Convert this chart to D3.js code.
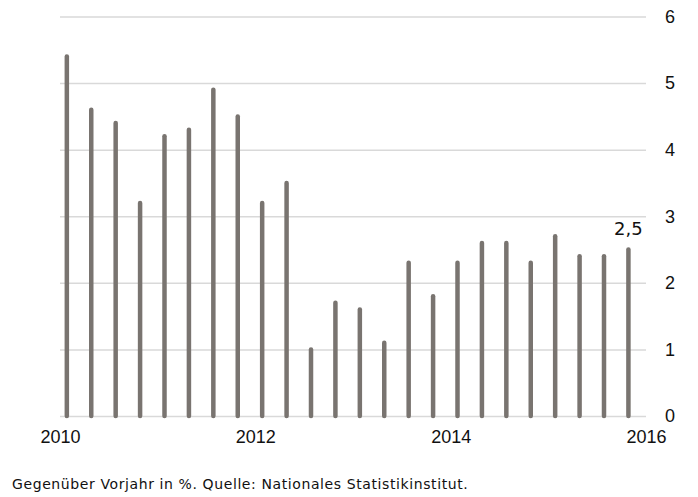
<!DOCTYPE html>
<html>
<head>
<meta charset="utf-8">
<script src="https://cdn.jsdelivr.net/npm/d3@7"></script>
<style>
  body { margin: 0; background: #fff; }
  svg { display: block; font-family: "DejaVu Sans", sans-serif; }
</style>
</head>
<body>
<div id="chart"></div>
<script>
// Quartalswerte 2010-2015, gegenüber Vorjahr in %
const years = [2010, 2011, 2012, 2013, 2014, 2015];
const quarters = [1, 2, 3, 4];
const values = [
    5.4, 4.6, 4.4, 3.2,
    4.2, 4.3, 4.9, 4.5,
    3.2, 3.5, 1.0, 1.7,
    1.6, 1.1, 2.3, 1.8,
    2.3, 2.6, 2.6, 2.3,
    2.7, 2.4, 2.4, 2.5
];
const xTicks = [2010, 2012, 2014, 2016];
const yTicks = [0, 1, 2, 3, 4, 5, 6];
const lastLabel = "2,5";
const footnote = "Gegenüber Vorjahr in %. Quelle: Nationales Statistikinstitut.";

const width = 698, height = 497;
const margin = { top: 16.5, right: 52, bottom: 81, left: 60 };
const innerW = width - margin.left - margin.right;
const innerH = height - margin.top - margin.bottom;

// Daten zusammenbauen: Position in Dezimaljahren
const data = [];
years.forEach((yr, i) => {
    quarters.forEach((q, j) => {
        data.push({ t: yr + (q - 1) / 4 + 0.07, value: values[i * 4 + j] });
    });
});

const svg = d3.select("#chart").append("svg")
    .attr("width", width)
    .attr("height", height);

const g = svg.append("g")
    .attr("transform", `translate(${margin.left}, ${margin.top})`);

const x = d3.scaleLinear().domain([2010, 2016]).range([0, innerW]);
const y = d3.scaleLinear().domain([0, 6]).range([innerH, 0]);

// Gitterlinien + Achsenbeschriftung rechts
const yAxis = g.append("g")
    .attr("transform", `translate(${innerW}, 0)`)
    .call(d3.axisRight(y).tickValues(yTicks).tickFormat(d3.format("d")).tickSize(-innerW).tickPadding(19));
yAxis.select(".domain").remove();
yAxis.selectAll("line").attr("stroke", "#d9d9d9").attr("stroke-width", 1.5);
yAxis.selectAll("text")
    .attr("fill", "#111")
    .style("font-size", "18px");

const xAxis = g.append("g")
    .attr("transform", `translate(0, ${innerH})`)
    .call(d3.axisBottom(x).tickValues(xTicks).tickFormat(d3.format("d")).tickSize(0).tickPadding(14));
xAxis.select(".domain").remove();
xAxis.selectAll("text")
    .attr("fill", "#111")
    .style("font-size", "18px");

// Balken als dünne Linien mit runden Enden
g.selectAll(".bar")
    .data(data)
    .enter()
    .append("line")
    .attr("class", "bar")
    .attr("x1", d => x(d.t))
    .attr("x2", d => x(d.t))
    .attr("y1", y(0))
    .attr("y2", d => y(d.value))
    .attr("stroke", "#797470")
    .attr("stroke-width", 4.5)
    .attr("stroke-linecap", "round");

// Wert am letzten Balken
const last = data[data.length - 1];
g.append("text")
    .attr("x", x(last.t))
    .attr("y", y(last.value) - 15)
    .attr("text-anchor", "middle")
    .attr("fill", "#111")
    .style("font-size", "18px")
    .text(lastLabel);

svg.append("text")
    .attr("x", 12)
    .attr("y", 489)
    .attr("fill", "#111")
    .style("font-size", "14px")
    .style("letter-spacing", "0.6px")
    .text(footnote);
</script>
</body>
</html>
